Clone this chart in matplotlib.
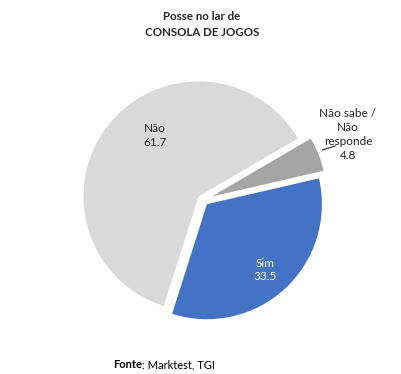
import matplotlib.pyplot as plt

# data
labels = ["Sim", "Não", "Não sabe /\nNão\nresponde"]
values = [33.5, 61.7, 4.8]
colors = ["#4472C4", "#D9D9D9", "#A5A5A5"]
explode = [0.05, 0.05, 0.08]

plt.rcParams["font.family"] = ["Lato", "DejaVu Sans"]

W, H = 401, 374
cx, cy, R = 203, 200, 115  # pie centre and radius in pixels

fig = plt.figure(figsize=(W / 100, H / 100), dpi=100)
ax = fig.add_axes([0, 0, 1, 1])

ax.pie(values, colors=colors, explode=explode, startangle=13, counterclock=False,
       radius=1, center=(0, 0), frame=True, wedgeprops={"linewidth": 0})
ax.set_xlim(-cx / R, (W - cx) / R)
ax.set_ylim(-(H - cy) / R, cy / R)
ax.set_aspect("auto")
ax.set_axis_off()

# data labels
ax.text(-0.42, 0.56, f"{labels[1]}\n{values[1]}", ha="center", va="center",
        fontsize=8.5, color="#262626", linespacing=1.3)
ax.text(0.54, -0.61, f"{labels[0]}\n{values[0]}", ha="center", va="center",
        fontsize=8.5, color="white", linespacing=1.3)
ax.text(1.26, 0.57, f"{labels[2]}\n{values[2]}", ha="center", va="center",
        fontsize=8.5, color="#262626", linespacing=1.35)
ax.plot([1.04, 1.15], [0.435, 0.47], color="#262626", lw=0.8)

# title
fig.text(202 / W, 1 - 17 / H, "Posse no lar de", ha="center", va="center",
         fontsize=8.3, fontweight="bold", color="#262626")
fig.text(202 / W, 1 - 33 / H, "CONSOLA DE JOGOS", ha="center", va="center",
         fontsize=8.3, fontweight="bold", color="#262626")

# source
t = fig.text(113 / W, 1 - 365 / H, "Fonte", ha="left", va="center",
             fontsize=8, fontweight="bold", color="black")
fig.canvas.draw()
bb = t.get_window_extent()
fig.text(bb.x1 / W, 1 - 365 / H, ": Marktest, TGI", ha="left", va="center",
         fontsize=8, color="black")

fig.savefig("out.png", dpi=100)
